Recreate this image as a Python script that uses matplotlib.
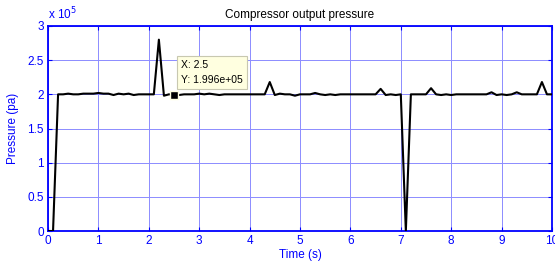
import numpy as np
import matplotlib
matplotlib.use('Agg')
import matplotlib.pyplot as plt
from matplotlib.ticker import FuncFormatter

# sample times (s), one sample every 0.1 s
time_s = np.linspace(0, 10, 101)

# compressor output pressure, in units of 1e5 pa
pressure_e5 = [
    0.0, 0.0, 2.0, 2.0, 2.01, 2.0, 2.0, 2.01, 2.01, 2.01,
    2.02, 2.01, 2.01, 1.99, 2.01, 2.0, 2.01, 1.99, 2.0, 2.0,
    2.0, 2.0, 2.8, 1.98, 2.0, 1.996, 1.99, 2.0, 2.0, 2.0,
    2.01, 2.0, 2.01, 2.0, 1.99, 2.0, 2.0, 2.0, 2.0, 2.0,
    2.0, 2.0, 2.0, 2.0, 2.18, 1.99, 2.01, 2.0, 2.0, 1.98,
    2.0, 2.0, 2.0, 2.02, 2.0, 1.99, 2.0, 1.99, 2.0, 2.0,
    2.0, 2.0, 2.0, 2.0, 2.0, 2.0, 2.08, 1.99, 2.0, 1.99,
    2.0, 0.0, 2.0, 2.0, 2.0, 2.0, 2.09, 2.0, 1.99, 2.0,
    1.99, 2.0, 2.0, 2.0, 2.0, 2.0, 2.0, 2.0, 2.03, 1.99,
    2.0, 1.99, 2.0, 2.03, 2.0, 2.0, 2.0, 2.0, 2.18, 2.0,
    2.0,
]
pressure = np.array(pressure_e5) * 1e5

tip_x = 2.5
tip_y = 1.996e5

plt.rcParams['font.family'] = ['Liberation Sans', 'DejaVu Sans']
blue = '#0000ff'

fig = plt.figure(figsize=(5.55, 2.68), dpi=100)
ax = fig.add_axes([48 / 555, 37 / 268, 504 / 555, 205 / 268])

ax.plot(time_s, pressure, color='black', linewidth=1.5, zorder=3)

ax.set_xlim(0, 10)
ax.set_ylim(0, 3e5)
ax.set_xticks(np.arange(0, 11, 1))
ax.set_yticks(np.arange(0, 3.01e5, 0.5e5))
ax.yaxis.set_major_formatter(FuncFormatter(lambda v, p: '%g' % (v / 1e5)))

ax.grid(True, color='#8c8cff', linewidth=0.7)
ax.set_axisbelow(True)
for s in ax.spines.values():
    s.set_color(blue)
    s.set_linewidth(1.3)
ax.tick_params(direction='in', length=3, colors=blue, labelsize=8.5,
               top=True, right=True, labelcolor=blue, pad=3)

ax.set_title('Compressor output pressure', fontsize=8.5, pad=6)
ax.set_xlabel('Time (s)', color=blue, fontsize=8.5, labelpad=1)
ax.set_ylabel('Pressure (pa)', color=blue, fontsize=8.5, labelpad=6)
ax.text(0, 1.02, r'x 10$^5$', transform=ax.transAxes, color=blue,
        fontsize=8.5, ha='left', va='bottom')

# data tip
ax.plot([tip_x], [tip_y], marker='s', markersize=6, color='black',
        markeredgecolor='#ffffe0', zorder=5)
ax.annotate('X: 2.5\nY: 1.996e+05', xy=(tip_x, tip_y), xytext=(5, 7),
            textcoords='offset points', ha='left', va='bottom', fontsize=7.5,
            linespacing=1.55,
            bbox=dict(boxstyle='square,pad=0.4', fc='#ffffe0', ec='#c8c8b0', lw=0.8),
            zorder=6)

plt.savefig('out.png', dpi=100)
